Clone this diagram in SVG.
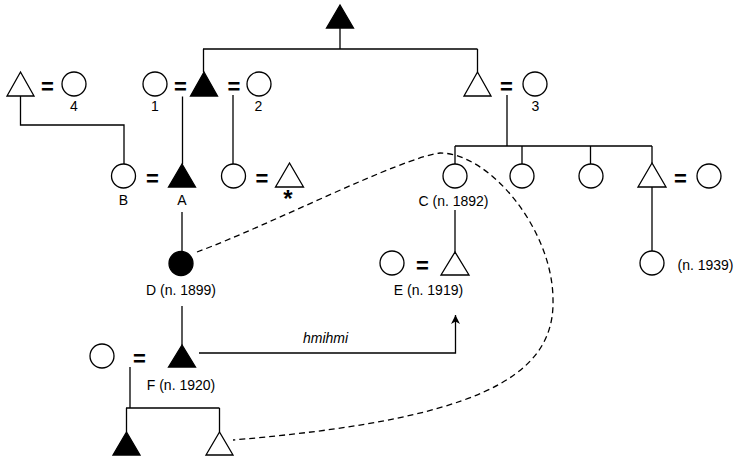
<svg xmlns="http://www.w3.org/2000/svg" width="734" height="459" viewBox="0 0 734 459">
<style>
.o{fill:#fff;stroke:#000;stroke-width:1.3}
.f{fill:#000;stroke:#000;stroke-width:1.3}
.l{fill:none;stroke:#000;stroke-width:1.3}
.d{fill:none;stroke:#000;stroke-width:1.3;stroke-dasharray:6 4}
text{font-family:"Liberation Sans",Arial,sans-serif;font-size:14px;fill:#000;text-anchor:middle}
.eq{font-weight:bold;font-size:22px}
.it{font-style:italic}
</style>
<defs>
<marker id="ah" markerWidth="10" markerHeight="10" refX="9" refY="4.5" orient="auto" markerUnits="userSpaceOnUse">
<path d="M0,0 L9,4.5 L0,9 L2.5,4.5 Z" fill="#000"/>
</marker>
</defs>
<rect width="734" height="459" fill="#fff"/>
<g id="connectors">
<path class="l" d="M340,28 V49 M203,49 H477.5 M203.5,49 V72 M477.5,49 V72"/>
<path class="l" d="M20.5,96 V125 H124 V164"/>
<path class="l" d="M182.5,96.5 V164"/>
<path class="l" d="M233,95 V164"/>
<path class="l" d="M507,95 V146 M455,146 H652 M455,146 V164 M522,146 V164 M590.5,146 V164 M652,146 V163"/>
<path class="l" d="M455,210 V252"/>
<path class="l" d="M652,187 V251"/>
<path class="l" d="M182,212 V251.5"/>
<path class="l" d="M182,306 V345"/>
<path class="l" d="M130,367 V408 M126,408 H219.5 M126.5,408 V432 M219.5,408 V432"/>
<path class="l" d="M199,353 H455.5 V315" marker-end="url(#ah)"/>
<text class="it" x="325.5" y="343">hmihmi</text>
<path class="d" d="M197,252 C270,225 400,158 440,153 C490,153 553,230 553,300 C555,380 470,420 233,440"/>
</g>
<g id="top"><polygon class="f" points="340,5 326.5,28 353.5,28"/></g>
<g id="m4"><polygon class="o" points="20.5,72 7,96 34,96"/></g>
<text class="eq" x="47.5" y="93.5">=</text>
<g id="w4"><circle class="o" cx="74" cy="84" r="12"/><text x="74" y="110.5">4</text></g>
<g id="w1"><circle class="o" cx="155" cy="84" r="12"/><text x="155" y="110.5">1</text></g>
<text class="eq" x="180.5" y="93.5">=</text>
<g id="man1"><polygon class="f" points="204,72 190.5,96 217.5,96"/></g>
<text class="eq" x="234" y="93.5">=</text>
<g id="w2"><circle class="o" cx="259" cy="84" r="12"/><text x="258.5" y="110.5">2</text></g>
<g id="man3"><polygon class="o" points="477.5,72 464,96 491,96"/></g>
<text class="eq" x="506.5" y="93.5">=</text>
<g id="w3"><circle class="o" cx="535" cy="84" r="12"/><text x="535.5" y="110.5">3</text></g>
<g id="B"><circle class="o" cx="123.5" cy="176" r="12"/><text x="123.5" y="205">B</text></g>
<text class="eq" x="152.5" y="185.5">=</text>
<g id="A"><polygon class="f" points="182,164 168.5,187 195.5,187"/><text x="182" y="205">A</text></g>
<g id="w5"><circle class="o" cx="233.5" cy="176" r="12"/></g>
<text class="eq" x="262" y="185.5">=</text>
<g id="star"><polygon class="o" points="289.5,163 275.5,187 303.5,187"/><text x="288" y="207" style="font-weight:bold;font-size:24px">*</text></g>
<g id="C"><circle class="o" cx="455" cy="176" r="12"/><text x="453.5" y="206">C (n. 1892)</text></g>
<g id="s2"><circle class="o" cx="522" cy="176" r="12"/></g>
<g id="s3"><circle class="o" cx="591" cy="176" r="12"/></g>
<g id="s4"><polygon class="o" points="652,163 638,187 666,187"/></g>
<text class="eq" x="680.5" y="185.5">=</text>
<g id="w6"><circle class="o" cx="709" cy="176" r="12"/></g>
<g id="D"><circle class="f" cx="181" cy="263.5" r="12"/><text x="181" y="295">D (n. 1899)</text></g>
<g id="w7"><circle class="o" cx="392" cy="263" r="12"/></g>
<text class="eq" x="422.5" y="272.5">=</text>
<g id="E"><polygon class="o" points="455,252 441,275 469,275"/><text x="428.5" y="295">E (n. 1919)</text></g>
<g id="g1939"><circle class="o" cx="652" cy="263" r="12"/><text x="677.5" y="270" style="text-anchor:start">(n. 1939)</text></g>
<g id="w8"><circle class="o" cx="102" cy="356" r="12"/></g>
<text class="eq" x="139.5" y="365.5">=</text>
<g id="F"><polygon class="f" points="182,345 168.5,367 195.5,367"/><text x="181" y="390">F (n. 1920)</text></g>
<g id="c1"><polygon class="f" points="126.5,432 113,455 140,455"/></g>
<g id="c2"><polygon class="o" points="219.5,432 206,455 233,455"/></g>
</svg>
